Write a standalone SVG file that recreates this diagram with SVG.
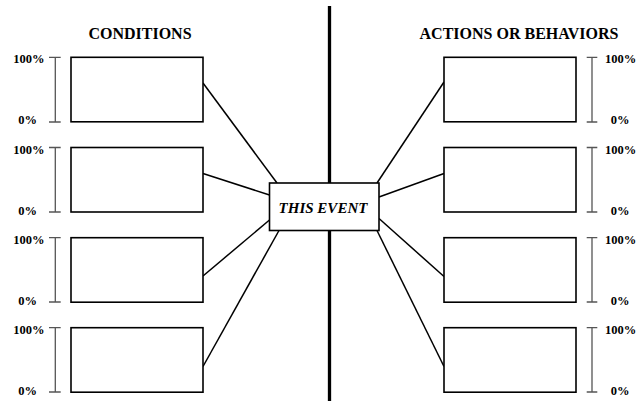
<svg xmlns="http://www.w3.org/2000/svg" width="637" height="404" viewBox="0 0 637 404">
<style>
.box{fill:#fff;stroke:#000;stroke-width:1.6}
.conn{stroke:#000;stroke-width:1.5;fill:none}
.scale{stroke:#555;stroke-width:1.3;fill:none}
.hdr{font-family:"Liberation Serif",serif;font-weight:bold;font-size:16px;text-anchor:middle}
.pct{font-family:"Liberation Serif",serif;font-weight:bold;font-size:12.5px}
.ev{font-family:"Liberation Serif",serif;font-weight:bold;font-style:italic;font-size:15px;text-anchor:middle}
</style>
<rect width="637" height="404" fill="#fff"/>
<line x1="329.5" y1="6" x2="329.5" y2="401" stroke="#000" stroke-width="3.3"/>
<text class="hdr" x="140" y="39">CONDITIONS</text>
<text class="hdr" x="519" y="39">ACTIONS OR BEHAVIORS</text>
<g id="connectors">
<line class="conn" x1="203" y1="83" x2="277" y2="183"/>
<line class="conn" x1="203" y1="173.5" x2="269.5" y2="195"/>
<line class="conn" x1="203" y1="276" x2="269.5" y2="220"/>
<line class="conn" x1="203" y1="366.5" x2="279" y2="230.5"/>
<line class="conn" x1="444" y1="82" x2="377" y2="183"/>
<line class="conn" x1="444" y1="173.5" x2="379" y2="197"/>
<line class="conn" x1="379" y1="218.5" x2="444" y2="276.5"/>
<line class="conn" x1="377" y1="230.5" x2="444" y2="366.5"/>
</g>
<g id="scales-left">
<path class="scale" d="M55.3 57.3V122M49 57.3H60.7M49 122H60.7"/>
<path class="scale" d="M55.3 147.5V212M49 147.5H60.7M49 212H60.7"/>
<path class="scale" d="M55.3 237.7V302M49 237.7H60.7M49 302H60.7"/>
<path class="scale" d="M55.3 327.7V392M49 327.7H60.7M49 392H60.7"/>
<text class="pct" x="13.3" y="63.3">100%</text><text class="pct" x="18.3" y="124.3">0%</text>
<text class="pct" x="13.3" y="153.5">100%</text><text class="pct" x="18.3" y="214.5">0%</text>
<text class="pct" x="13.3" y="243.7">100%</text><text class="pct" x="18.3" y="304.5">0%</text>
<text class="pct" x="13.3" y="333.7">100%</text><text class="pct" x="18.3" y="394.5">0%</text>
</g>
<g id="scales-right">
<path class="scale" d="M592 57.3V122M586.7 57.3H597.3M586.7 122H597.3"/>
<path class="scale" d="M592 147.5V212M586.7 147.5H597.3M586.7 212H597.3"/>
<path class="scale" d="M592 237.7V302M586.7 237.7H597.3M586.7 302H597.3"/>
<path class="scale" d="M592 327.7V392M586.7 327.7H597.3M586.7 392H597.3"/>
<text class="pct" x="605" y="63.3">100%</text><text class="pct" x="610.7" y="124.3">0%</text>
<text class="pct" x="605" y="153.5">100%</text><text class="pct" x="610.7" y="214.5">0%</text>
<text class="pct" x="605" y="243.7">100%</text><text class="pct" x="610.7" y="304.5">0%</text>
<text class="pct" x="605" y="333.7">100%</text><text class="pct" x="610.7" y="394.5">0%</text>
</g>
<g id="cond1"><rect class="box" x="71" y="57.3" width="132" height="64.5"/></g>
<g id="cond2"><rect class="box" x="71" y="147.5" width="132" height="64.5"/></g>
<g id="cond3"><rect class="box" x="71" y="237.7" width="132" height="64.5"/></g>
<g id="cond4"><rect class="box" x="71" y="327.7" width="132" height="64.5"/></g>
<g id="act1"><rect class="box" x="444" y="57.3" width="132" height="64.5"/></g>
<g id="act2"><rect class="box" x="444" y="147.5" width="132" height="64.5"/></g>
<g id="act3"><rect class="box" x="444" y="237.7" width="132" height="64.5"/></g>
<g id="act4"><rect class="box" x="444" y="327.7" width="132" height="64.5"/></g>
<g id="event"><rect class="box" x="269.5" y="183" width="109.5" height="47.5"/><text class="ev" x="323" y="212.5">THIS EVENT</text></g>
</svg>
